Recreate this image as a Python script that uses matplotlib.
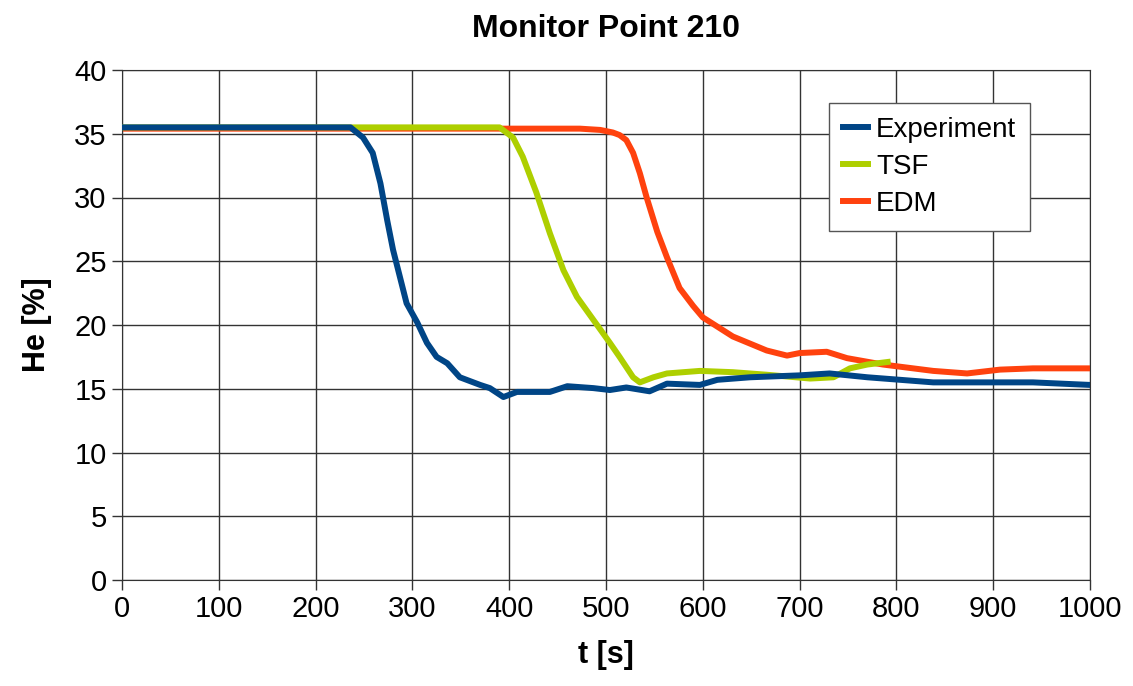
import numpy as np
import matplotlib.pyplot as plt

plt.rcParams['font.family'] = ['Liberation Sans', 'DejaVu Sans']

# values
exp_t = [0, 100, 200, 236, 249, 259, 267, 274, 280, 287, 294, 305, 315, 325, 336,
         349, 356, 370, 380, 394, 408, 442, 460, 487, 504, 521, 545, 563, 597, 615,
         649, 700, 731, 770, 804, 838, 941, 1000]
exp_v = [35.5, 35.5, 35.5, 35.5, 34.7, 33.5, 31.1, 28.2, 25.9, 23.8, 21.7, 20.2, 18.6, 17.5, 17.0,
         15.9, 15.7, 15.3, 15.05, 14.35, 14.75, 14.75, 15.2, 15.05, 14.9, 15.1, 14.8, 15.4, 15.3, 15.7,
         15.9, 16.05, 16.2, 15.9, 15.7, 15.5, 15.5, 15.3]

tsf_t = [0, 200, 390, 404, 414, 428, 442, 456, 470, 487, 504, 514, 528, 535, 549,
         563, 597, 631, 666, 711, 735, 752, 770, 791]
tsf_v = [35.5, 35.5, 35.5, 34.7, 33.2, 30.4, 27.2, 24.3, 22.2, 20.4, 18.6, 17.5, 15.9, 15.5, 15.9,
         16.2, 16.4, 16.3, 16.1, 15.8, 15.9, 16.6, 16.9, 17.1]

edm_t = [0, 300, 473, 494, 507, 514, 521, 528, 535, 542, 553, 563, 576, 590, 600,
         631, 666, 687, 700, 728, 749, 786, 838, 873, 907, 941, 1000]
edm_v = [35.4, 35.4, 35.4, 35.3, 35.1, 34.9, 34.5, 33.5, 31.9, 30.0, 27.3, 25.3, 22.9, 21.5, 20.6,
         19.1, 18.0, 17.6, 17.8, 17.9, 17.4, 16.9, 16.4, 16.2, 16.5, 16.6, 16.6]

fig = plt.figure(figsize=(11.33, 6.86), dpi=100)
ax = fig.add_axes([122 / 1133, 1 - 580 / 686, 968 / 1133, 510 / 686])

ax.plot(tsf_t, tsf_v, color='#aecf00', lw=4.3, label='TSF', zorder=3,
        solid_joinstyle='round')
ax.plot(edm_t, edm_v, color='#ff420e', lw=4.3, label='EDM', zorder=2,
        solid_joinstyle='round')
ax.plot(exp_t, exp_v, color='#004586', lw=4.3, label='Experiment', zorder=4,
        solid_joinstyle='round')

ax.set_xlim(0, 1000)
ax.set_ylim(0, 40)
ax.set_xticks(np.arange(0, 1001, 100))
ax.set_yticks(np.arange(0, 41, 5))
ax.grid(True, color='#333333', lw=1.0)
ax.set_axisbelow(True)
ax.tick_params(labelsize=21, length=7, width=1.0, color='#333333', pad=4)
for s in ax.spines.values():
    s.set_color('#333333')

ax.set_title('Monitor Point 210', fontsize=23, fontweight='bold', pad=24)
ax.set_xlabel('t [s]', fontsize=22, fontweight='bold', labelpad=12)
ax.set_ylabel('He [%]', fontsize=22, fontweight='bold', labelpad=16)

h, l = ax.get_legend_handles_labels()
order = [2, 0, 1]
leg = ax.legend([h[i] for i in order], [l[i] for i in order],
                loc='upper left', bbox_to_anchor=((829 - 122) / 968, (580 - 103) / 510),
                fontsize=20, fancybox=False, edgecolor='#555555', framealpha=1,
                handlelength=0.9, handletextpad=0.3, borderpad=0.5, borderaxespad=0,
                labelspacing=0.4)
leg.get_frame().set_linewidth(1.0)

fig.savefig('out.png', dpi=100)
